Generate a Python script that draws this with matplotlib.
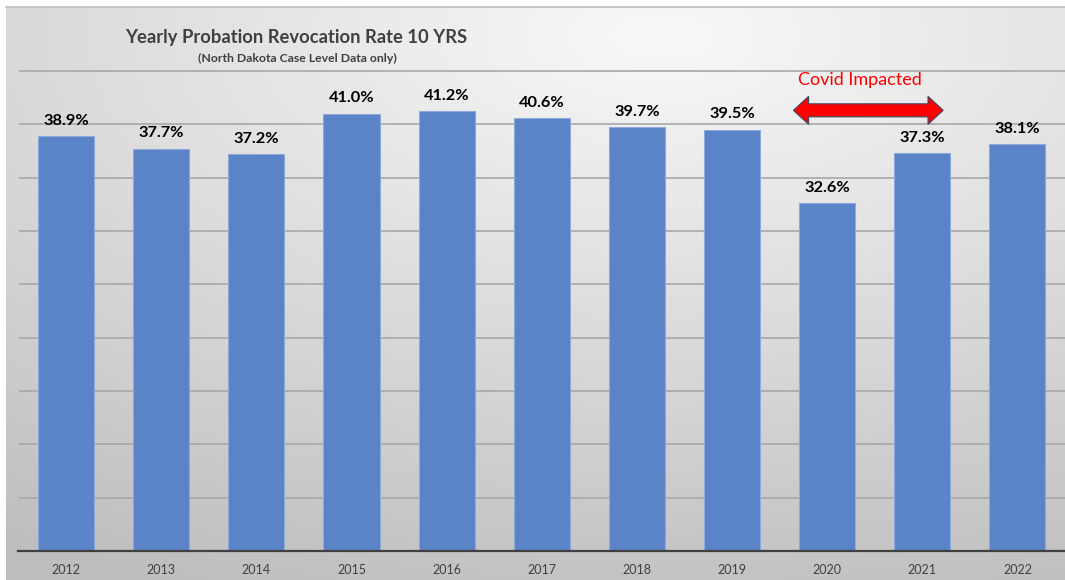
import numpy as np
import matplotlib
matplotlib.use("Agg")
import matplotlib.pyplot as plt
from matplotlib.patches import Polygon

years = ["2012", "2013", "2014", "2015", "2016", "2017", "2018", "2019", "2020", "2021", "2022"]
rates = [38.9, 37.7, 37.2, 41.0, 41.2, 40.6, 39.7, 39.5, 32.6, 37.3, 38.1]
labels = ["38.9%", "37.7%", "37.2%", "41.0%", "41.2%", "40.6%", "39.7%", "39.5%", "32.6%", "37.3%", "38.1%"]
grid_ticks = [5, 10, 15, 20, 25, 30, 35, 40, 45]
title = "Yearly Probation Revocation Rate 10 YRS"
subtitle = "(North Dakota Case Level Data only)"
covid_text = "Covid Impacted"

plt.rcParams['font.family'] = ['Lato', 'DejaVu Sans']

W, H = 1065, 580
fig = plt.figure(figsize=(W / 100, H / 100), dpi=100)
fig.patch.set_facecolor("white")

# background panel with gradient
bg = fig.add_axes([6 / W, 0, 1 - 6 / W, 1 - 7 / H])
bg.set_axis_off()
ny, nx = 300, 600
yy, xx = np.mgrid[0:1:ny * 1j, 0:1:nx * 1j]  # yy=0 at top
d = np.sqrt(((xx - 0.62) * 1.0) ** 2 + ((yy - 0.05) * 1.1) ** 2)
v = 0.975 - 0.19 * np.clip(d / 0.95, 0, 1.2)
img = np.dstack([v, v, v])
bg.imshow(img, aspect="auto", extent=[0, 1, 0, 1], origin="upper")
bg.set_xlim(0, 1)
bg.set_ylim(0, 1)
bg.plot([0, 1], [1, 1], color="#bfbfbf", lw=1.2, transform=bg.transAxes, clip_on=False)

ax = fig.add_axes([18.5 / W, 29 / H, (W - 18.5) / W, 544 / H])
ax.patch.set_alpha(0)
x = np.arange(len(years))
ax.bar(x, rates, width=0.59, color="#5A83C8", edgecolor="#8EA9DB", linewidth=0.8, zorder=3)
ax.set_xlim(-0.5, len(years) - 0.5)
ax.set_ylim(0, 544 / 10.67)
ax.set_yticks(grid_ticks)
ax.yaxis.grid(True, color="#a8a8a8", lw=1.2, zorder=0)
ax.tick_params(axis="y", length=0, labelleft=False)
ax.set_xticks(x)
ax.set_xticklabels(years, fontsize=9, color="#404040")
ax.tick_params(axis="x", length=0, pad=9)
for s in ["top", "right", "left"]:
    ax.spines[s].set_visible(False)
ax.spines["bottom"].set_color("#404040")
ax.spines["bottom"].set_linewidth(1.6)
ax.spines["bottom"].set_zorder(4)

for xi, r, lab in zip(x, rates, labels):
    ax.annotate(lab, (xi, r), xytext=(0, 11), textcoords="offset points",
                ha="center", va="center", fontsize=11.8, fontweight="bold", color="black")

ax.text(2.42, 48.1, title, ha="center", va="center", fontsize=13.2,
        fontweight="bold", color="#404040")
ax.text(2.43, 46.2, subtitle, ha="center", va="center", fontsize=8.8,
        fontweight="bold", color="#404040")

ax.text(8.34, 44.1, covid_text, ha="center", va="center", fontsize=13, color="#ff0000")

# double-headed arrow
x0, x1, yc = 7.645, 9.22, 41.3
bh, hh, hl = 0.61, 1.31, 0.16
pts = [(x0, yc), (x0 + hl, yc + hh), (x0 + hl, yc + bh), (x1 - hl, yc + bh), (x1 - hl, yc + hh),
       (x1, yc), (x1 - hl, yc - hh), (x1 - hl, yc - bh), (x0 + hl, yc - bh), (x0 + hl, yc - hh)]
ax.add_patch(Polygon(pts, closed=True, facecolor="#ff0000", edgecolor="#3d4a63",
                     linewidth=0.8, zorder=5))

fig.savefig("out.png", dpi=100)
